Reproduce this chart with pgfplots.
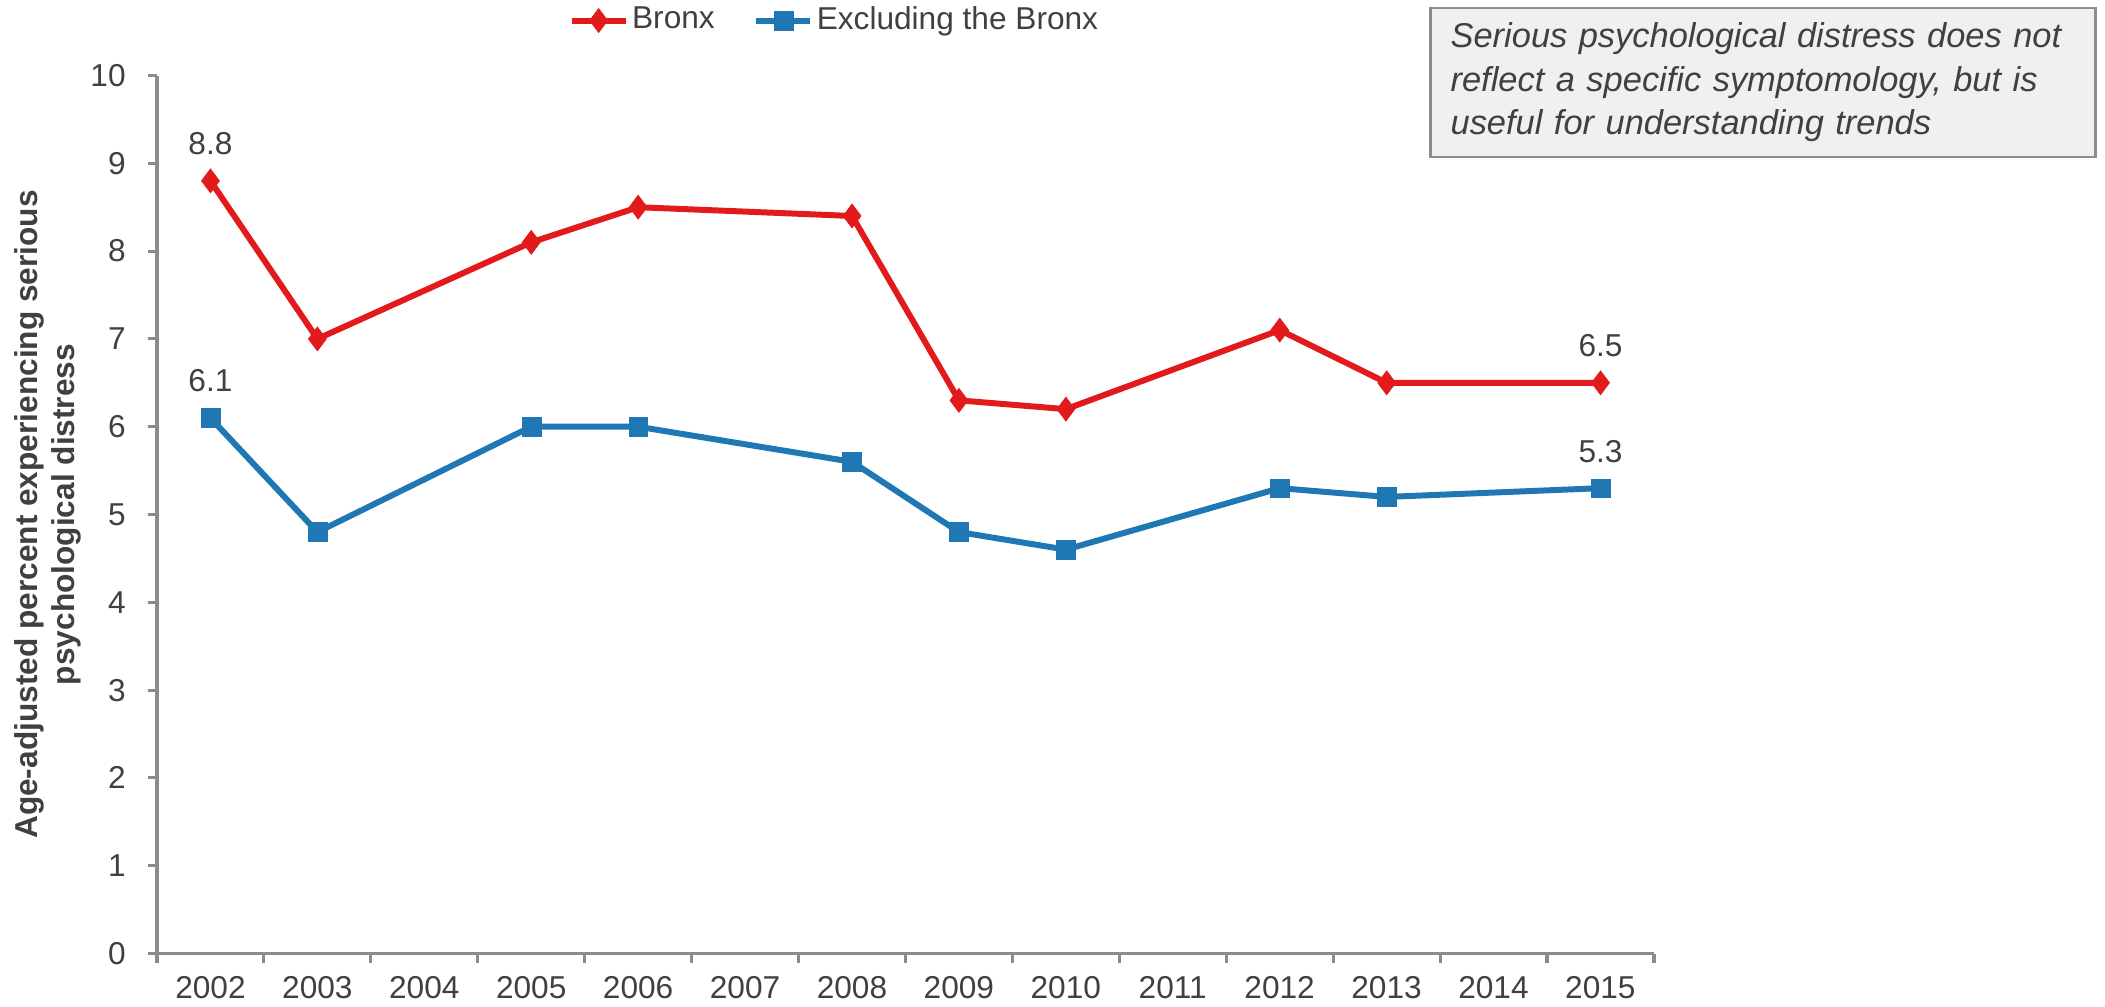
\documentclass[border=0pt]{standalone}
\usepackage{fontspec}
\setmainfont{Liberation Sans}
\usepackage{pgfplots}
\pgfplotsset{compat=1.18}
\definecolor{cRed}{HTML}{E31A1C}
\definecolor{cBlue}{HTML}{1F77B4}
\definecolor{cText}{HTML}{404040}
\definecolor{cAxis}{HTML}{8C8C8C}
\definecolor{cBox}{HTML}{F0F0F0}

\begin{document}
\begin{tikzpicture}
\begin{axis}[
    scale only axis,
    width=14.97cm, height=8.78cm,
    xmin=2001.5, xmax=2015.5,
    ymin=0, ymax=10,
    axis lines*=left,
    axis line style={cAxis, line width=0.9pt},
    tick align=outside,
    xtick={2002,...,2015},
    minor xtick={2001.5,2002.5,...,2015.5},
    ytick={0,...,10},
    major tick length=0.09cm,
    minor tick length=0.09cm,
    major x tick style={draw=none},
    minor x tick style={cAxis, line width=0.9pt},
    major y tick style={cAxis, line width=0.9pt},
    tick label style={font=\fontsize{9}{11}\selectfont, text=cText},
    /pgf/number format/assume math mode=true,
    x tick label style={/pgf/number format/1000 sep={}, inner sep=0pt, yshift=-0.135cm},
    y tick label style={xshift=-0.1cm},
    ylabel={Age-adjusted percent experiencing serious\\psychological distress},
    ylabel style={at={([xshift=-0.75cm]rel axis cs:0,0.5)}, anchor=south,
        inner sep=0pt, align=center,
        font=\fontsize{9}{10.5}\selectfont\bfseries, text=cText},
    legend columns=2,
    legend style={draw=none, fill=none, at={(axis description cs:0.453,1.0626)},
        anchor=center, font=\fontsize{9}{11}\selectfont, text=cText,
        /tikz/every even column/.append style={column sep=0.35cm},
        inner sep=0pt, nodes={inner sep=1pt}},
    legend image code/.code={
        \draw[mark repeat=2, mark phase=2] plot coordinates {(0cm,0cm) (0.27cm,0cm) (0.54cm,0cm)};},
    clip=false,
]
\addplot[cRed, line width=1.7pt, mark=diamond*, mark size=3.4pt,
    mark options={solid, line width=0.2pt}]
    coordinates {
      (2002, 8.8) (2003, 7.0) (2005, 8.1) (2006, 8.5) (2008, 8.4)
      (2009, 6.3) (2010, 6.2) (2012, 7.1) (2013, 6.5) (2015, 6.5)
    };
\addlegendentry{Bronx}
\addplot[cBlue, line width=1.7pt, mark=square*, mark size=2.7pt,
    mark options={solid, line width=0.1pt}]
    coordinates {
      (2002, 6.1) (2003, 4.8) (2005, 6.0) (2006, 6.0) (2008, 5.6)
      (2009, 4.8) (2010, 4.6) (2012, 5.3) (2013, 5.2) (2015, 5.3)
    };
\addlegendentry{Excluding the Bronx}

% value labels at the first and last points
\addplot[draw=none, forget plot, nodes near coords,
    point meta=explicit symbolic,
    nodes near coords style={font=\fontsize{9}{11}\selectfont, text=cText,
        anchor=center, yshift=0.37cm}]
    coordinates {(2002, 8.8) [8.8] (2015, 6.5) [6.5] (2002, 6.1) [6.1] (2015, 5.3) [5.3]};

\node[draw=cAxis, fill=cBox, line width=0.8pt, anchor=north east,
    text width=6.25cm, minimum height=1.49cm, inner xsep=0.2cm, align=left,
    font=\fontsize{9.8}{12.4}\selectfont\itshape, text=cText]
    at ([xshift=19.40cm, yshift=0.69cm]rel axis cs:0,1)
    {Serious psychological distress does not\\reflect a specific symptomology, but is\\useful for understanding trends};

% page frame as in the reference
\coordinate (bbsw) at ([xshift=-1.57cm, yshift=-0.53cm]rel axis cs:0,0);
\coordinate (bbne) at ([xshift=19.48cm, yshift=0.755cm]rel axis cs:0,1);
\end{axis}
\pgfresetboundingbox
\path[use as bounding box] (bbsw) rectangle (bbne);
\end{tikzpicture}
\end{document}
